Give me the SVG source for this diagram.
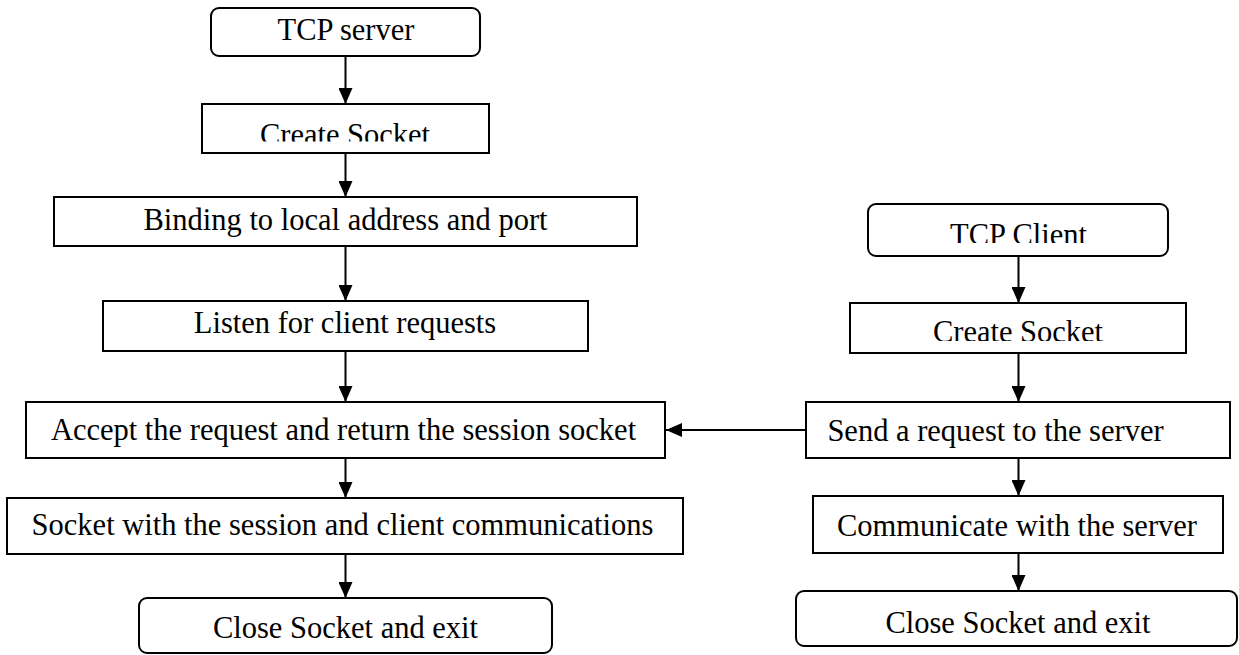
<svg xmlns="http://www.w3.org/2000/svg" width="1239" height="655" viewBox="0 0 1239 655">
<style>
.box{fill:#fff;stroke:#000;stroke-width:2}
.lbl{font-family:"Liberation Serif","Times New Roman",serif;font-size:30.5px;fill:#000;text-anchor:middle}
.conn{stroke:#000;stroke-width:2;fill:none}
</style>
<defs>
<marker id="ah" markerUnits="userSpaceOnUse" markerWidth="16" markerHeight="14" refX="16" refY="7" orient="auto">
<path d="M0,0 L16,7 L0,14 Z" fill="#000"/>
</marker>
<clipPath id="c1"><rect x="202" y="104" width="287" height="37.5"/></clipPath>
<clipPath id="c2"><rect x="868" y="204" width="300" height="39"/></clipPath>
<clipPath id="c3"><rect x="850" y="303" width="336" height="38"/></clipPath>
</defs>
<rect width="1239" height="655" fill="#fff"/>
<g id="connectors">
<line class="conn" x1="345.5" y1="56" x2="345.5" y2="104" marker-end="url(#ah)"/>
<line class="conn" x1="345.5" y1="153" x2="345.5" y2="197" marker-end="url(#ah)"/>
<line class="conn" x1="345.5" y1="246" x2="345.5" y2="301" marker-end="url(#ah)"/>
<line class="conn" x1="345.5" y1="351" x2="345.5" y2="402" marker-end="url(#ah)"/>
<line class="conn" x1="345.5" y1="458" x2="345.5" y2="498" marker-end="url(#ah)"/>
<line class="conn" x1="345.5" y1="554" x2="345.5" y2="598" marker-end="url(#ah)"/>
<line class="conn" x1="1018.5" y1="256" x2="1018.5" y2="303" marker-end="url(#ah)"/>
<line class="conn" x1="1018.5" y1="353" x2="1018.5" y2="402" marker-end="url(#ah)"/>
<line class="conn" x1="1018.5" y1="458" x2="1018.5" y2="496" marker-end="url(#ah)"/>
<line class="conn" x1="1018.5" y1="553" x2="1018.5" y2="591" marker-end="url(#ah)"/>
<line class="conn" x1="806" y1="430" x2="666" y2="430" marker-end="url(#ah)"/>
</g>
<g id="tcp-server">
<rect class="box" x="211" y="8" width="269" height="48" rx="8"/>
<text class="lbl" x="346" y="40">TCP server</text>
</g>
<g id="server-create-socket">
<rect class="box" x="202" y="104" width="287" height="49"/>
<text class="lbl" x="345" y="145" clip-path="url(#c1)">Create Socket</text>
</g>
<g id="binding">
<rect class="box" x="54" y="197" width="583" height="49"/>
<text class="lbl" x="345.5" y="230">Binding to local address and port</text>
</g>
<g id="listen">
<rect class="box" x="103" y="301" width="485" height="50"/>
<text class="lbl" x="345" y="333">Listen for client requests</text>
</g>
<g id="accept">
<rect class="box" x="26" y="402" width="639" height="56"/>
<text class="lbl" x="343.5" y="440">Accept the request and return the session socket</text>
</g>
<g id="session-comm">
<rect class="box" x="7" y="498" width="676" height="56"/>
<text class="lbl" x="342.5" y="535">Socket with the session and client communications</text>
</g>
<g id="server-close">
<rect class="box" x="139" y="598" width="413" height="55" rx="8"/>
<text class="lbl" x="345.5" y="638">Close Socket and exit</text>
</g>
<g id="tcp-client">
<rect class="box" x="868" y="204" width="300" height="52" rx="8"/>
<text class="lbl" x="1018.5" y="245" clip-path="url(#c2)">TCP Client</text>
</g>
<g id="client-create-socket">
<rect class="box" x="850" y="303" width="336" height="50"/>
<text class="lbl" x="1018" y="342" clip-path="url(#c3)">Create Socket</text>
</g>
<g id="send-request">
<rect class="box" x="806" y="402" width="424" height="56"/>
<text class="lbl" x="995.5" y="441">Send a request to the server</text>
</g>
<g id="communicate">
<rect class="box" x="813" y="496" width="410" height="57"/>
<text class="lbl" x="1017" y="536">Communicate with the server</text>
</g>
<g id="client-close">
<rect class="box" x="796" y="591" width="441" height="55" rx="8"/>
<text class="lbl" x="1018" y="633">Close Socket and exit</text>
</g>
</svg>
